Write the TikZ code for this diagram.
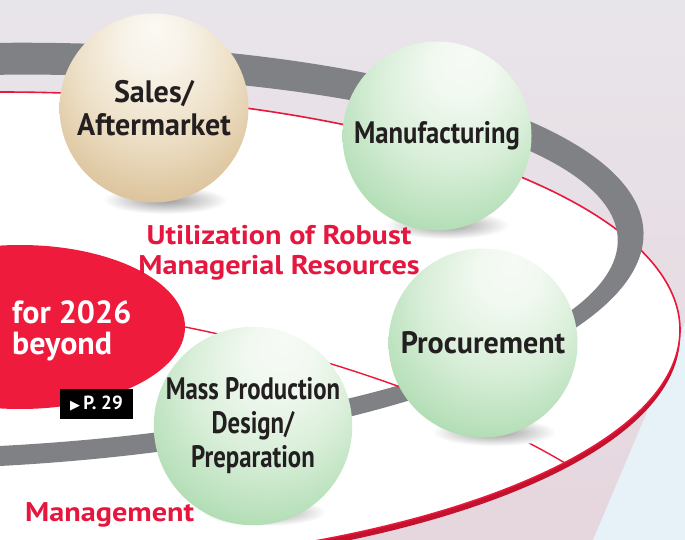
\documentclass[tikz,border=0pt]{standalone}
\usepackage{fontspec}
\setmainfont{PT Sans}
\newfontfamily\lblfont[FakeStretch=0.86]{PT Sans}
\newfontfamily\lblwide[FakeStretch=0.97]{PT Sans}
\newfontfamily\lblnarrow[FakeStretch=0.80]{PT Sans}
\newfontfamily\widefont[FakeStretch=1.12]{PT Sans}
\newfontfamily\symfont{DejaVu Sans}
\usetikzlibrary{shapes.geometric}
\definecolor{bgtop}{HTML}{E8E5EA}
\definecolor{bgbot}{HTML}{E6D6DE}
\definecolor{bluebg}{HTML}{E7F1F8}
\definecolor{rimred}{HTML}{E8173B}
\definecolor{rimdark}{HTML}{C3112E}
\definecolor{ringgray}{HTML}{808185}
\definecolor{blobred}{HTML}{EE1B3D}
\definecolor{txtred}{HTML}{E5173F}
\definecolor{txtdark}{HTML}{231F20}
\definecolor{gA}{HTML}{F6FBF5}
\definecolor{gB}{HTML}{F2F9F1}
\definecolor{gC}{HTML}{DAEFDA}
\definecolor{gD}{HTML}{BCE2BE}
\definecolor{gE}{HTML}{98D39D}
\definecolor{gF}{HTML}{6FBF79}
\definecolor{bA}{HTML}{FBF9F4}
\definecolor{bB}{HTML}{F8F3E9}
\definecolor{bC}{HTML}{EEE1C9}
\definecolor{bD}{HTML}{E0CAA5}
\definecolor{bE}{HTML}{D0B183}
\definecolor{bF}{HTML}{C19C65}
\pgfdeclareradialshading{greensph}{\pgfpoint{8bp}{22bp}}{color(0bp)=(gA); color(8bp)=(gB); color(20bp)=(gC); color(30bp)=(gD); color(40bp)=(gE); color(50bp)=(gF)}
\pgfdeclareradialshading{beigesph}{\pgfpoint{0bp}{22bp}}{color(0bp)=(bA); color(8bp)=(bB); color(20bp)=(bC); color(30bp)=(bD); color(40bp)=(bE); color(50bp)=(bF)}
\tikzset{
  sph/.style={circle, minimum size=189, inner sep=0, align=center, text=txtdark,
    font=\lblfont\bfseries\fontsize{31}{34}\selectfont},
  greenball/.style={sph, shading=greensph},
  beigeball/.style={sph, shading=beigesph},
  sphshadow/.style={inner color=gray!80, outer color=white},
  redtext/.style={text=txtred, font=\widefont\bfseries\fontsize{27}{30}\selectfont, align=center, inner sep=0},
  thinred/.style={draw=rimred, line width=1.4},
}
\begin{document}
\begin{tikzpicture}[x=1pt,y=-1pt]
\useasboundingbox (0,0) rectangle (685,540);
% background
\shade[top color=bgtop, bottom color=bgbot] (0,0) rectangle (685,540);
\fill[bluebg] (685,322) -- (593,540) -- (685,540) -- cycle;
% disk with rim
\fill[rimdark] (0,336) ellipse [x radius=680, y radius=238];
\fill[white] (0,330) ellipse [x radius=680, y radius=238];
\draw[thinred, line width=1.6] (0,330) ellipse [x radius=680, y radius=238];
% gray ring
\fill[ringgray, even odd rule, rotate around={2:(-50,258)}]
  (-50,256) ellipse [x radius=694, y radius=212]
  (-50,262) ellipse [x radius=668, y radius=186];
% red blob
\node[ellipse, fill=blobred, minimum width=330, minimum height=164, inner sep=0] (blob) at (20,327) {};
\coordinate (rimpt) at (565,463);
\draw[thinred] (blob.east) .. controls (300,350) and (450,395) .. (rimpt);
% shadows
\shade[sphshadow] (165,200) ellipse [x radius=62, y radius=14];
\shade[sphshadow] (447,225) ellipse [x radius=62, y radius=14];
\shade[sphshadow] (494,432) ellipse [x radius=62, y radius=14];
\shade[sphshadow] (264,512) ellipse [x radius=62, y radius=14];
% spheres
\node[beigeball, font=\lblwide\bfseries\fontsize{31}{33}\selectfont] (sales) at (154,108) {Sales/\\Aftermarket};
\node[greenball] (manu) at (437,136) {Manufacturing};
\node[greenball, font=\lblwide\bfseries\fontsize{31}{34}\selectfont] (proc) at (483,343) {Procurement};
\node[greenball, font=\lblnarrow\bfseries\fontsize{31}{34}\selectfont] (mass) at (253,426) {Mass Production\\Design/\\Preparation};
% texts
\node[redtext] (util) at (279,253) {Utilization of Robust\\Managerial Resources};
\node[text=white, font=\bfseries\fontsize{32}{31}\selectfont, align=left, inner sep=0, anchor=west] (goal) at (12,331) {for 2026\\beyond};
\node[fill=black, text=white, minimum width=73, minimum height=30, inner sep=0,
  font=\bfseries\fontsize{19}{19}\selectfont] (pref) at (96.5,404) {{\symfont\fontsize{13}{13}\selectfont ▶}\,P. 29};
\node[redtext, anchor=base west] (mgmt) at (25,521) {Management};
\end{tikzpicture}
\end{document}
